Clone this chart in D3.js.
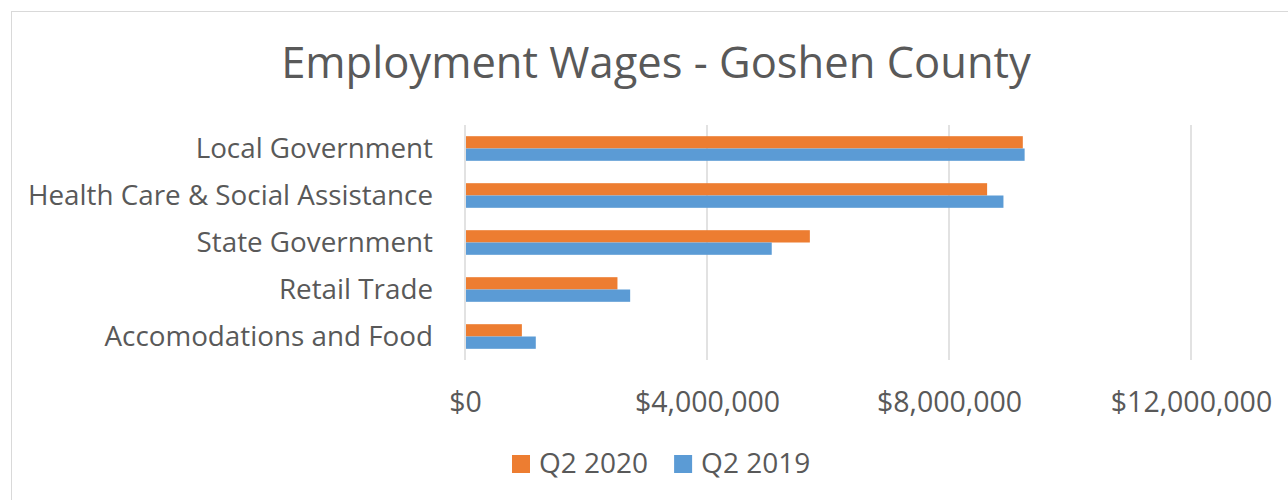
<!DOCTYPE html>
<html>
<head>
<meta charset="utf-8">
<script src="https://cdn.jsdelivr.net/npm/d3@7"></script>
<style>
  body { margin: 0; background: #fff; }
  text { font-family: "Open Sans", sans-serif; fill: #595959; }
</style>
</head>
<body>
<div id="chart"></div>
<script>
// data
var categories = ["Local Government", "Health Care & Social Assistance", "State Government", "Retail Trade", "Accomodations and Food"];
var seriesNames = ["Q2 2020", "Q2 2019"];
var q2_2020 = [9220000, 8630000, 5700000, 2520000, 940000];
var q2_2019 = [9250000, 8900000, 5070000, 2730000, 1170000];
var xTicks = [0, 4000000, 8000000, 12000000];
var colors = ["#ED7D31", "#5B9BD5"];

var rows = categories.map(function(c, i) {
    return { cat: c, values: [q2_2020[i], q2_2019[i]] };
});

var width = 1288,
    height = 500;

var svg = d3.select("#chart")
    .append("svg")
        .attr("width", width)
        .attr("height", height);

/* chart frame, runs off the right and bottom */
svg.append("rect")
    .attr("x", 11.5)
    .attr("y", 11.5)
    .attr("width", 1400)
    .attr("height", 600)
    .attr("fill", "none")
    .attr("stroke", "#d9d9d9");

svg.append("text")
    .attr("x", 656)
    .attr("y", 78)
    .attr("text-anchor", "middle")
    .style("font-size", "43.5px")
    .text("Employment Wages - Goshen County");

/* scales */
var x = d3.scaleLinear()
    .domain([0, 12000000])
    .range([465, 1191]);

var y = d3.scaleBand()
    .domain(categories)
    .range([125, 360])
    .paddingInner(0.476)
    .paddingOuter(0.238);

var ySub = d3.scaleBand()
    .domain(d3.range(seriesNames.length))
    .range([0, y.bandwidth()]);

/* gridlines */
svg.append("g")
    .selectAll("line")
    .data(xTicks)
    .enter().append("line")
        .attr("x1", function(d) { return x(d); })
        .attr("x2", function(d) { return x(d); })
        .attr("y1", 125)
        .attr("y2", 360)
        .attr("stroke", "#d9d9d9")
        .attr("stroke-width", 1.5);

/* x axis labels */
var fmt = d3.format(",");
var xAxis = d3.axisBottom(x)
    .tickValues(xTicks)
    .tickSize(0)
    .tickPadding(0)
    .tickFormat(function(d) { return "$" + fmt(d); });

var gx = svg.append("g")
    .attr("transform", "translate(0,412)")
    .call(xAxis);
gx.select(".domain").remove();
gx.selectAll("text")
    .attr("y", 0)
    .attr("dy", 0)
    .style("font-size", "28.5px")
    .style("font-family", "'Open Sans', sans-serif")
    .attr("fill", "#595959");

/* y axis labels */
var yAxis = d3.axisLeft(y).tickSize(0).tickPadding(0);
var gy = svg.append("g")
    .attr("transform", "translate(433,0)")
    .call(yAxis);
gy.select(".domain").remove();
gy.selectAll("text")
    .attr("x", 0)
    .attr("dy", 9)
    .style("font-size", "27.8px")
    .style("font-family", "'Open Sans', sans-serif")
    .attr("fill", "#595959");

/* bars */
svg.append("g")
    .selectAll("g")
    .data(rows)
    .enter().append("g")
        .attr("transform", function(d) { return "translate(0," + y(d.cat) + ")"; })
    .selectAll("rect")
    .data(function(d) { return d.values; })
    .enter().append("rect")
        .attr("x", x(0) + 1)
        .attr("y", function(d, i) { return ySub(i); })
        .attr("width", function(d) { return x(d) - x(0) - 1; })
        .attr("height", ySub.bandwidth())
        .attr("fill", function(d, i) { return colors[i]; });

/* legend */
var legend = svg.append("g");
var lx = 512;
seriesNames.forEach(function(name, i) {
    legend.append("rect")
        .attr("x", lx)
        .attr("y", 455)
        .attr("width", 18)
        .attr("height", 18)
        .attr("fill", colors[i]);
    var t = legend.append("text")
        .attr("x", lx + 27)
        .attr("y", 473)
        .style("font-size", "28px")
        .text(name);
    lx = lx + 27 + t.node().getComputedTextLength() + 26;
});
</script>
</body>
</html>
